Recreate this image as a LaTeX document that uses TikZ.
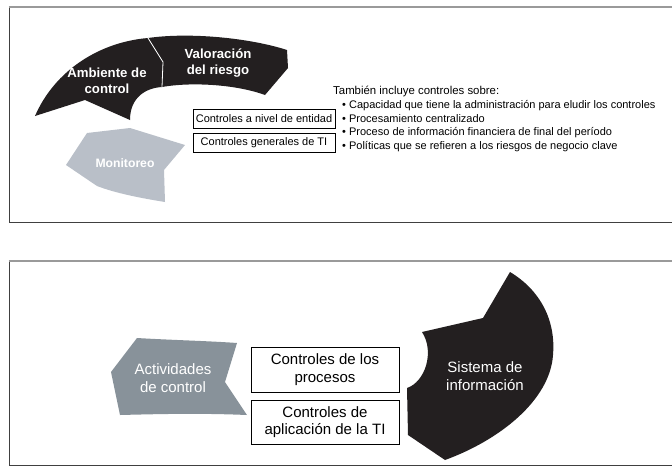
\documentclass[tikz,border=0pt]{standalone}
\usepackage{fontspec}
\setmainfont{Liberation Sans}
\definecolor{shapeblack}{HTML}{231F20}
\definecolor{monigray}{HTML}{B9BFC8}
\definecolor{actgray}{HTML}{88929A}
\definecolor{framedark}{HTML}{404040}
\definecolor{framegray}{HTML}{9A9A9A}
\tikzset{
  framebox/.style={draw=framedark, line width=0.9pt},
  frametop/.style={draw=framegray, line width=1.8pt},
  ctlbox/.style={draw=black, line width=0.7pt, fill=white, inner sep=0pt},
  blacklabel/.style={text=white, font=\fontsize{13.2}{15.5}\selectfont\bfseries, align=center},
  whitelabel/.style={text=white, font=\fontsize{15}{17.5}\selectfont, align=center},
  bullettext/.style={anchor=west, inner sep=0pt, font=\fontsize{11}{12}\selectfont},
  boxtext/.style={font=\fontsize{11}{12}\selectfont},
  bigboxtext/.style={font=\fontsize{15}{17.5}\selectfont, align=center}
}
\begin{document}
\begin{tikzpicture}[x=1pt,y=-1pt]
\useasboundingbox (0,0) rectangle (672,472);
% frames (open on the right, running off the page)
\draw[framebox] (673,222) -- (9,222) -- (9,7);
\draw[frametop] (8.5,7) -- (673,7);
\draw[framebox] (673,465) -- (9,465) -- (9,261);
\draw[frametop] (8.5,261) -- (673,261);

% --- top diagram shapes
\fill[shapeblack] (35,116) .. controls (55,70) and (100,42) .. (148,38) -- (163,62) -- (162,87)
   .. controls (145,88) and (130,98) .. (130,120) -- (85,100) -- cycle;
\fill[shapeblack] (148,38) .. controls (190,32) and (250,38) .. (287,50) -- (288,68) -- (265,95)
   .. controls (235,84) and (190,82) .. (162,87) -- (163,62) -- cycle;
\draw[white, line width=0.8pt] (148,38) -- (163,62) -- (162,87);
\fill[monigray] (87,133) -- (130,128) -- (185,145) -- (164,170) -- (165,202)
   .. controls (140,198) and (115,193) .. (97,186) -- (66,165) -- cycle;

\node[blacklabel] (amb) at (107,81) {Ambiente de\\control};
\node[blacklabel] (val) at (218,63) {Valoración\\del riesgo};
\node[blacklabel, font=\fontsize{12.2}{14}\selectfont\bfseries] (mon) at (125,163) {Monitoreo};

\node[ctlbox, minimum width=142pt, minimum height=19pt, boxtext] (ent) at (264,118.5) {Controles a nivel de entidad};
\node[ctlbox, minimum width=142pt, minimum height=19pt, boxtext] (gen) at (264,142.5) {Controles generales de TI};

\node[anchor=west, inner sep=0pt, font=\fontsize{11.4}{13}\selectfont] (tam) at (333,91) {También incluye controles sobre:};
\node[bullettext] (b1) at (342,105.5) {\textbullet\ Capacidad que tiene la administración para eludir los controles};
\node[bullettext] (b2) at (342,119) {\textbullet\ Procesamiento centralizado};
\node[bullettext] (b3) at (342,133) {\textbullet\ Proceso de información financiera de final del período};
\node[bullettext] (b4) at (342,146.5) {\textbullet\ Políticas que se refieren a los riesgos de negocio clave};

% --- bottom diagram shapes
\fill[actgray] (137,338) .. controls (170,340) and (210,341) .. (237,343) -- (225,382) -- (247,415)
   .. controls (200,413) and (160,414) .. (120,415) -- (111,372) -- cycle;
\fill[shapeblack] (510,272) .. controls (540,290) and (556,320) .. (553,355)
   .. controls (550,400) and (500,440) .. (445,460) -- (408,435) -- (407,388)
   .. controls (425,382) and (435,352) .. (422,332) -- (483,318) -- cycle;

\node[whitelabel] (act) at (173,378) {Actividades\\de control};
\node[whitelabel] (sis) at (485,376) {Sistema de\\información};

\node[ctlbox, minimum width=148pt, minimum height=45pt, bigboxtext] (proc) at (325,369.5) {Controles de los\\procesos};
\node[ctlbox, minimum width=148pt, minimum height=44pt, bigboxtext] (apl) at (325,422) {Controles de\\aplicación de la TI};
\end{tikzpicture}
\end{document}
